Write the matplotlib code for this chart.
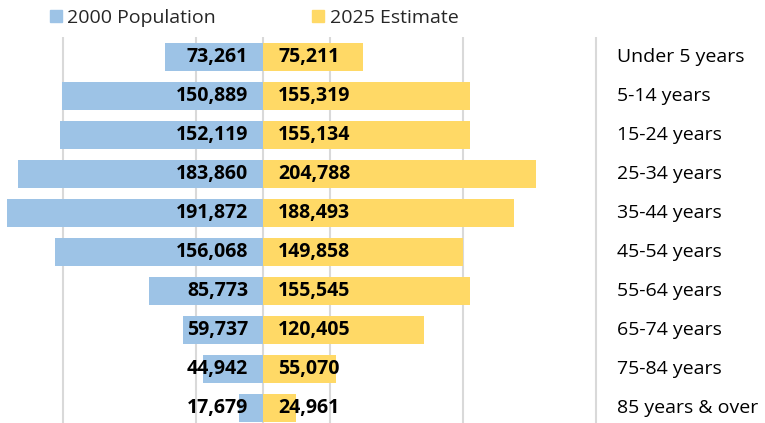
import matplotlib
matplotlib.use("Agg")
import matplotlib.pyplot as plt
from matplotlib.patches import Patch

# age groups, top to bottom
age_groups = ["Under 5 years", "5-14 years", "15-24 years", "25-34 years",
              "35-44 years", "45-54 years", "55-64 years", "65-74 years",
              "75-84 years", "85 years & over"]
pop_2000 = [73261, 150889, 152119, 183860, 191872, 156068, 85773, 59737, 44942, 17679]
est_2025 = [75211, 155319, 155134, 204788, 188493, 149858, 155545, 120405, 55070, 24961]
grid_values = [-150000, -50000, 0, 50000, 150000, 250000]

BLUE = "#9DC3E6"
YELLOW = "#FFD966"
GRID = "#D9D9D9"
FONT = "Open Sans"

fig = plt.figure(figsize=(7.65, 4.23), dpi=100)
ax = fig.add_axes([0, 0, 1, 1])
ax.set_xlim(-197250, 376500)
ax.set_ylim(9.385, -1.4615)
ax.axis("off")

rows = list(range(len(age_groups)))

ax.vlines(grid_values, -0.513, 9.385, color=GRID, lw=1.5, zorder=0)

ax.barh(rows, [-v for v in pop_2000], height=0.72, color=BLUE, zorder=2)
ax.barh(rows, est_2025, height=0.72, color=YELLOW, zorder=2)

for i, (a, b) in enumerate(zip(pop_2000, est_2025)):
    ax.text(-11250, i, f"{a:,}", ha="right", va="center", fontsize=14,
            fontweight="bold", family=FONT, color="black", zorder=3)
    ax.text(11500, i, f"{b:,}", ha="left", va="center", fontsize=14,
            fontweight="bold", family=FONT, color="black", zorder=3)
    ax.text(265500, i, age_groups[i], ha="left", va="center", fontsize=14,
            family=FONT, color="black")

handles = [Patch(color=BLUE, label="2000 Population"),
           Patch(color=YELLOW, label="2025 Estimate")]
fig.legend(handles=handles, loc="upper left", bbox_to_anchor=(48 / 765, 0.983),
           ncol=2, frameon=False, borderpad=0.1, borderaxespad=0,
           handlelength=0.6, handleheight=0.6, handletextpad=0.3,
           columnspacing=4.95, prop={"family": FONT, "size": 14},
           labelcolor="#262626")

fig.savefig("out.png", dpi=100)
